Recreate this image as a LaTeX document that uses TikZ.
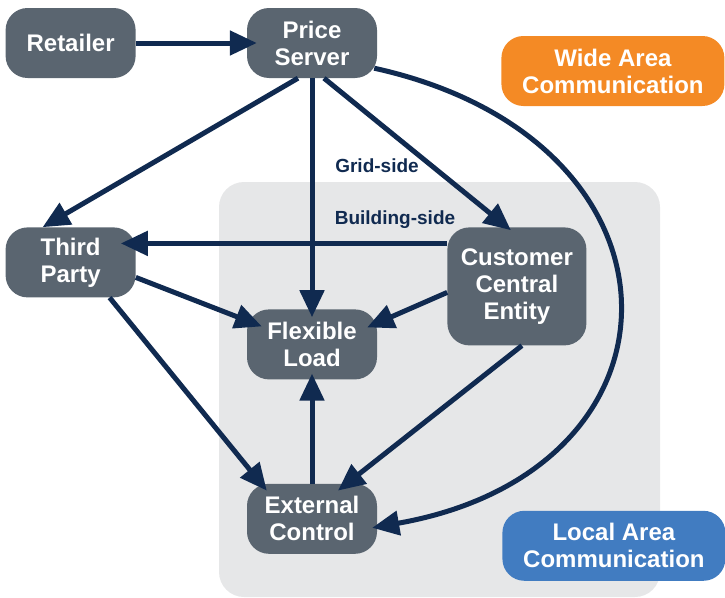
\documentclass[tikz,border=0pt]{standalone}
\usepackage{fontspec}
\setmainfont{Liberation Sans}
\usetikzlibrary{arrows.meta,positioning}
\definecolor{boxgray}{HTML}{5A6570}
\definecolor{navy}{HTML}{102A50}
\definecolor{wideorange}{HTML}{F48A25}
\definecolor{localblue}{HTML}{417CC1}
\definecolor{bggray}{HTML}{E6E7E8}
\begin{document}
\begin{tikzpicture}[x=1pt,y=-1pt]
  \tikzset{
    >={Triangle[length=27pt,width=24pt]},
    box/.style={rectangle,rounded corners=22pt,fill=boxgray,text=white,
      font=\fontsize{24}{27}\selectfont\bfseries,align=center,
      minimum width=130pt,minimum height=70pt,inner sep=0pt},
    area/.style={box,minimum width=223pt},
    lbl/.style={text=navy,font=\fontsize{19}{22}\selectfont\bfseries},
    link/.style={->,draw=navy,line width=5pt},
  }
  \useasboundingbox (0,0) rectangle (725,597);
  % building-side region
  \fill[bggray,rounded corners=25pt] (219,182) rectangle (660,597);

  \node [box] (ps)  at (312,43)          {Price\\Server};
  \node [box] (ret) [left=111pt of ps]   {Retailer};
  \node [box] (fl)  [below=231pt of ps]  {Flexible\\Load};
  \node [box] (ec)  [below=104pt of fl]  {External\\Control};
  \node [box] (tp)  [below=149pt of ret] {Third\\Party};
  \node [box,minimum width=139pt,minimum height=118pt] (cce)
        [right=70pt of fl,yshift=58pt]   {Customer\\Central\\Entity};
  \node [area,fill=wideorange] (wan) [right=124pt of ps,yshift=-28pt] {Wide Area\\Communication};
  \node [area,fill=localblue]  (lan) [right=125pt of ec,yshift=-27pt] {Local Area\\Communication};

  \node [lbl] (grid)  at (377,166) {Grid-side};
  \node [lbl] (bside) at (395,220) {Building-side};

  \draw[link] (ret) -- ([xshift=10pt]ps.west);
  \draw[link] ([xshift=-14pt]ps.south) -- ([xshift=-28pt]tp.north);
  \draw[link] (ps) -- ([yshift=-8pt]fl.north);
  \draw[link] ([xshift=12pt]ps.south) -- ([xshift=-6pt,yshift=-3pt]cce.north);
  \draw[link] ([xshift=-3pt,yshift=10pt]ps.south east)
    .. controls (700,140) and (700,470) .. ([xshift=-5pt,yshift=-9pt]ec.east);
  \draw[link] ([yshift=43pt]cce.west) -- ([xshift=-15pt,yshift=19pt]tp.east);
  \draw[link] ([yshift=-6pt]cce.west) -- ([xshift=-10pt,yshift=17pt]fl.east);
  \draw[link] ([yshift=-15pt]tp.east) -- ([xshift=15pt,yshift=18pt]fl.west);
  \draw[link] ([xshift=39pt]tp.south) -- ([xshift=20pt,yshift=-7pt]ec.north west);
  \draw[link] (ec) -- ([yshift=6pt]fl.south);
  \draw[link] ([xshift=5pt]cce.south) -- ([xshift=26pt,yshift=-7pt]ec.north);
\end{tikzpicture}
\end{document}
